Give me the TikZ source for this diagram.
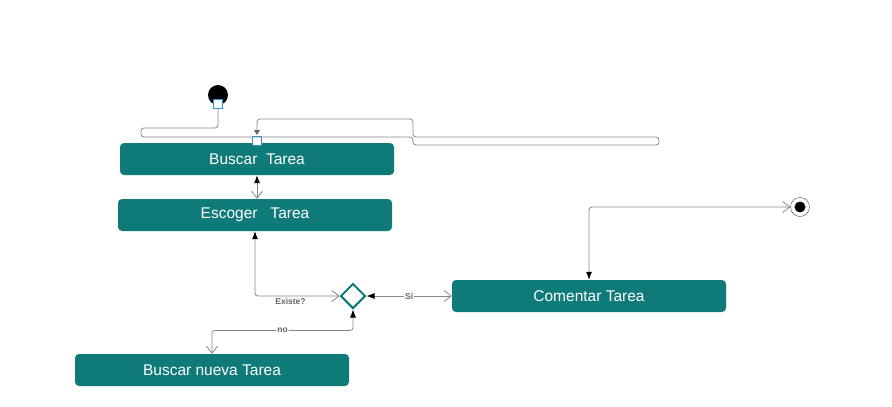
\documentclass[tikz,border=0pt]{standalone}
\usepackage{fontspec}
\setmainfont{Liberation Sans}
\usetikzlibrary{arrows.meta, shapes.geometric}

\definecolor{tealbox}{RGB}{14,123,121}
\definecolor{wire}{RGB}{135,135,135}
\definecolor{pinblue}{RGB}{41,150,214}

\begin{document}
\begin{tikzpicture}[x=1pt, y=-1pt,
        act/.style={rectangle, rounded corners=4pt, fill=tealbox, text=white,
            minimum width=274pt, minimum height=32pt, inner sep=0pt,
            font=\fontsize{15.5}{18}\selectfont},
        startdot/.style={circle, fill=black, minimum size=20pt, inner sep=0pt},
        pinbox/.style={rectangle, draw=pinblue, fill=white, line width=1pt,
            minimum size=9pt, inner sep=0pt},
        decision/.style={diamond, draw=tealbox, fill=white, line width=2pt,
            minimum width=25pt, minimum height=25pt, inner sep=0pt},
        finalring/.style={circle, draw=black!75, fill=white, minimum size=19pt,
            inner sep=0pt, path picture={\fill[black] (path picture bounding box.center) circle (5.5pt);}},
        flow/.style={draw=wire, line width=0.8pt, rounded corners=3pt},
        lbl/.style={text=black!60, fill=white, inner sep=1pt,
            font=\fontsize{8.5}{10}\selectfont\bfseries}
    ]
        \useasboundingbox (0,0) rectangle (892,407);

        \node[startdot] (ini) at (218,95) {};
        \node[act] (buscar) at (257,159) {Buscar\ \ Tarea};
        \node[act] (escoger) at (255,215) {Escoger\ \ \ Tarea};
        \node[decision] (dec) at (353,296) {};
        \node[act] (comentar) at (589,296) {Comentar Tarea};
        \node[act] (nueva) at (212,370) {Buscar nueva Tarea};
        \node[finalring] (fin) at (800,207) {};
        \node[pinbox] (p1) at (218,104) {};
        \node[pinbox] (p2) at (257,141) {};

        % tangled start connector
        \draw[flow, shorten >=1pt, -{Triangle[length=5pt, width=6pt, color=black!60]}]
            (p1.south) -- (218,128) -- (141,128) -- (141,137) -- (413,137)
            -- (413,145) -- (659,145) -- (659,137) -- (413,137) -- (413,119)
            -- (257,119) -- (p2.north);

        \draw[flow, {Latex[length=8pt, width=6pt, color=black]}-{Straight Barb[length=7pt, width=11pt, color=wire]}]
            (buscar.south) -- (buscar.south |- escoger.north);

        \draw[flow, {Straight Barb[length=7pt, width=11pt, color=wire]}-{Latex[length=8pt, width=6pt, color=black]}]
            (dec.west) -| node[lbl, below=1pt, pos=0.29, fill=none] {Existe?} (escoger.south);

        \draw[flow, {Latex[length=8pt, width=6pt, color=black]}-{Straight Barb[length=7pt, width=11pt, color=wire]}]
            (dec.east) -- node[lbl] {Sí} (comentar.west);

        \draw[flow, {Latex[length=8pt, width=6pt, color=black]}-{Straight Barb[length=7pt, width=11pt, color=wire]}]
            (dec.south) -- ++(0,21) -| node[lbl, pos=0.25] {no} (nueva.north);

        \draw[flow, {Latex[length=8pt, width=6pt, color=black]}-{Straight Barb[length=7pt, width=11pt, color=wire]}]
            (comentar.north) |- (fin.west);

    \end{tikzpicture}
\end{document}
